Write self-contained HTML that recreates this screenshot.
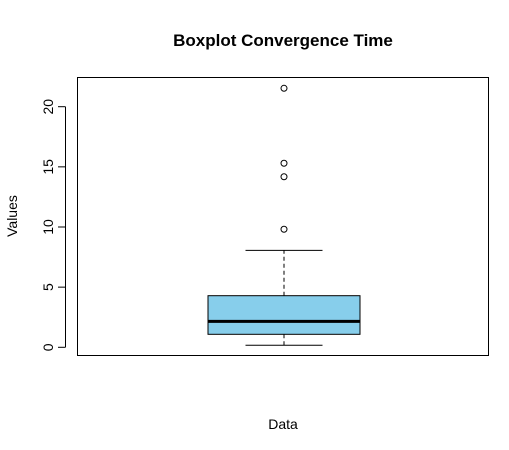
<!DOCTYPE html>
<html><head><meta charset="utf-8"><style>
body{margin:0;background:#fff;}
svg{display:block;font-family:"Liberation Sans",Arial,sans-serif;}
</style></head><body>
<svg id="chart" width="509" height="450" viewBox="0 0 509 450" xmlns="http://www.w3.org/2000/svg">
<text x="283" y="46" text-anchor="middle" font-size="17" font-weight="bold">Boxplot Convergence Time</text>
<rect x="77.5" y="77.5" width="411" height="278" fill="none" stroke="#000" stroke-width="1"/>
<text x="283" y="429" text-anchor="middle" font-size="14">Data</text>
<text transform="translate(17,216) rotate(-90)" text-anchor="middle" font-size="14">Values</text>
<g id="yaxis"></g>
<g id="box"></g>
</svg>
<script>
const yTicks = [0, 5, 10, 15, 20];
const stats = [0.17, 1.08, 2.16, 4.29, 8.06]; // min whisker, Q1, median, Q3, max whisker
const outliers = [9.81, 14.18, 15.3, 21.53];

const NS = "http://www.w3.org/2000/svg";
function y(v){ return 347.3 - v * 12.03; }
const cx = 284, bw = 152, cap = 77;
function mk(tag, attrs, parent){
  const e = document.createElementNS(NS, tag);
  for (const k in attrs) e.setAttribute(k, attrs[k]);
  parent.appendChild(e);
  return e;
}
const ya = document.getElementById('yaxis');
const axLine = mk('line', {x1:65.5, x2:65.5, y1:y(yTicks[0]), y2:y(yTicks[yTicks.length-1]), stroke:'#000'}, ya);


yTicks.forEach(t => {
  const l = mk('line', {x1:58, x2:65.5, y1:y(t), y2:y(t), stroke:'#000'}, ya);
  
  
  const tx = mk('text', {transform:`translate(53,${y(t)}) rotate(-90)`, 'text-anchor':'middle', 'font-size':'14'}, ya);
  tx.textContent = t;
  
  
});
const g = document.getElementById('box');
const w1 = mk('line', {x1:cx, x2:cx, y1:y(stats[0]), y2:y(stats[1]), stroke:'#000', 'stroke-dasharray':'4,3'}, g);


const w2 = mk('line', {x1:cx, x2:cx, y1:y(stats[3]), y2:y(stats[4]), stroke:'#000', 'stroke-dasharray':'4,3'}, g);


const c1 = mk('line', {x1:cx-cap/2, x2:cx+cap/2, y1:y(stats[0]), y2:y(stats[0]), stroke:'#000'}, g);


const c2 = mk('line', {x1:cx-cap/2, x2:cx+cap/2, y1:y(stats[4]), y2:y(stats[4]), stroke:'#000'}, g);


const r = mk('rect', {x:cx-bw/2, y:y(stats[3]), width:bw, height:y(stats[1])-y(stats[3]), fill:'#87ceeb', stroke:'#000'}, g);


const m = mk('line', {x1:cx-bw/2, x2:cx+bw/2, y1:y(stats[2]), y2:y(stats[2]), stroke:'#000', 'stroke-width':3}, g);


outliers.forEach(v => {
  const c = mk('circle', {cx:cx, cy:y(v), r:3, fill:'none', stroke:'#000'}, g);
  
  
});
</script>
</body></html>
